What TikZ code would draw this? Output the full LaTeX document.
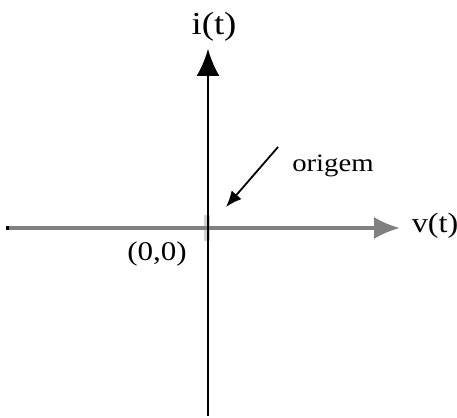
\documentclass[tikz,border=0pt]{standalone}
\usepackage{fontspec}
\setmainfont[FakeStretch=1.15]{Liberation Serif}
\usetikzlibrary{arrows.meta}
\begin{document}
\begin{tikzpicture}[x=1pt,y=-1pt,
  lbl/.style={inner sep=0pt, anchor=center},
  axisblack/.style={line width=2pt, black},
  axisgray/.style={line width=3.2pt, black!50},
  tipblack/.style={-{Latex[length=27pt,width=23pt]}},
  tipgray/.style={-{Latex[length=26pt,width=22pt]}},
  pointer/.style={line width=1.8pt,-{Latex[length=16pt,width=13pt]}}]
\useasboundingbox (0,0) rectangle (457,417);
% coordinates
\coordinate (hl) at (6,228);
\coordinate (hr) at (400,228);
\coordinate (vb) at (208,416);
\coordinate (vt) at (208,49);
\coordinate (ps) at (278,147);
\coordinate (pe) at (226,207);
% faint mark at origin
\fill[black!18] (204,215) rectangle (210,241);
% axes
\draw[axisgray, tipgray, draw=black!50, fill=black!50] (hl) -- (hr);
\fill[black] (6,226) rectangle (9,230);
\draw[axisblack, tipblack] (vb) -- (vt);
\draw[pointer] (ps) -- (pe);
% labels
\node[lbl, font=\fontsize{32}{32}\selectfont] (it) at (214,27) {i(t)};
\node[lbl, font=\fontsize{28}{28}\selectfont] (vt2) at (435,226) {v(t)};
\node[lbl, font=\fontsize{27}{27}\selectfont] (zero) at (157,254) {(0,0)};
\node[lbl, font=\fontsize{25}{25}\selectfont] (orig) at (333,166) {origem};
\end{tikzpicture}
\end{document}
